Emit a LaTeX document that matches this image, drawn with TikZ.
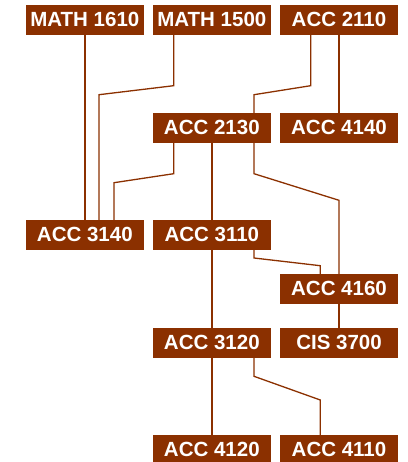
\documentclass[tikz,border=0pt]{standalone}
\usepackage{fontspec}
\setmainfont{Liberation Sans}
\usetikzlibrary{calc}
\definecolor{rust}{RGB}{139,48,0}
\newcommand{\lbl}[1]{\raisebox{1.5pt}{#1}}
\tikzset{
  course/.style={fill=rust, text=white, font=\bfseries\fontsize{20.5}{24}\selectfont,
    minimum width=117.7pt, minimum height=29.7pt, inner sep=0pt, anchor=center},
  link/.style={draw=rust, line width=1.3pt}
}
\begin{document}
\begin{tikzpicture}[x=1pt,y=-1pt]
\useasboundingbox (0,0) rectangle (407,462);
% nodes
\node[course] (m1610) at (84.85,19.85) {\lbl{MATH 1610}};
\node[course] (m1500) at (211.85,19.85) {\lbl{MATH 1500}};
\node[course] (a2110) at (339,19.85) {\lbl{ACC 2110}};
\node[course] (a2130) at (211.85,127.85) {\lbl{ACC 2130}};
\node[course] (a4140) at (339,127.85) {\lbl{ACC 4140}};
\node[course] (a3140) at (84.85,234.85) {\lbl{ACC 3140}};
\node[course] (a3110) at (211.85,234.85) {\lbl{ACC 3110}};
\node[course] (a4160) at (339,288.85) {\lbl{ACC 4160}};
\node[course] (a3120) at (211.85,342.85) {\lbl{ACC 3120}};
\node[course] (c3700) at (339,342.85) {\lbl{CIS 3700}};
\node[course] (a4120) at (211.85,450) {\lbl{ACC 4120}};
\node[course] (a4110) at (339,450) {\lbl{ACC 4110}};
% connectors
\draw[link] (m1610.south) -- (a3140.north);
\draw[link] ([xshift=-38.15pt]m1500.south) -- (173.7,85.7) -- (99,94.7) -- ([xshift=14.15pt]a3140.north);
\draw[link] ([xshift=-28.3pt]a2110.south) -- (310.7,85.7) -- (254,94.7) -- ([xshift=42.15pt]a2130.north);
\draw[link] (a2110.south) -- (a4140.north);
\draw[link] ([xshift=-38.15pt]a2130.south) -- (173.7,173.7) -- (114,182.7) -- ([xshift=29.15pt]a3140.north);
\draw[link] (a2130.south) -- (a3110.north);
\draw[link] ([xshift=42.15pt]a2130.south) -- (254,173.7) -- (339,200.3) -- (a4160.north);
\draw[link] ([xshift=42.15pt]a3110.south) -- (254,258) -- (320.3,265.7) -- ([xshift=-18.7pt]a4160.north);
\draw[link] (a3110.south) -- (a3120.north);
\draw[link] (a4160.south) -- (c3700.north);
\draw[link] (a3120.south) -- (a4120.north);
\draw[link] ([xshift=42.15pt]a3120.south) -- (254,376.3) -- (320.3,400) -- ([xshift=-18.7pt]a4110.north);
\end{tikzpicture}
\end{document}
